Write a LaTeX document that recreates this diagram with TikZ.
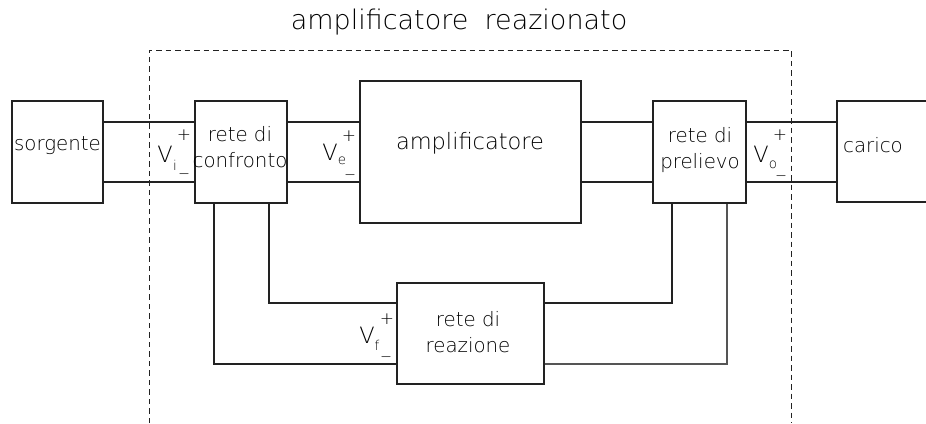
\documentclass[tikz,border=0pt]{standalone}
\usepackage{fontspec}
\setmainfont{DejaVu Sans ExtraLight}
\definecolor{ink}{HTML}{222222}
\definecolor{inkgray}{HTML}{555555}
\begin{document}
\begin{tikzpicture}[x=1pt,y=-1pt,
  box/.style={draw=ink,line width=1.1pt,inner sep=0pt},
  wire/.style={draw=ink,line width=1.1pt},
  frame/.style={draw=ink,line width=0.9pt,dash pattern=on 5.5pt off 4pt},
  lbl/.style={font=\fontsize{19.8}{26.5}\selectfont,align=center,inner sep=0pt},
  volt/.style={font=\fontsize{22.5}{22.5}\selectfont,inner sep=0pt},
  subs/.style={font=\fontsize{13.5}{13.5}\selectfont,inner sep=0pt},
  sgn/.style={font=\fontsize{17}{17}\selectfont,inner sep=0pt}]
\useasboundingbox (0,0) rectangle (926,423);
\clip (0,0) rectangle (926,423);

% title and the dashed outline of the feedback amplifier
\node[font=\fontsize{27}{27}\selectfont,inner sep=0pt] (title) at (459,22)
  {amplificatore\hspace{0.6em}reazionato};
\coordinate (fl) at (149,423);
\coordinate (fr) at (791,423);
\draw[frame] (fl) -- (149,50) -- (791,50) -- (fr);

% blocks
\node[box,minimum width=91pt,minimum height=102pt] (sorg) at (57.5,152) {};
\node[box,minimum width=92pt,minimum height=102pt] (conf) at (241,152) {};
\node[box,minimum width=221pt,minimum height=142pt] (amp) at (470.5,152) {};
\node[box,minimum width=93pt,minimum height=102pt] (prel) at (699.5,152) {};
\node[box,minimum width=147pt,minimum height=101pt] (reaz) at (470.5,333.5) {};
\node[box,minimum width=140pt,minimum height=101pt] (car) at (907,151.5) {};

% block labels
\node[lbl] (tsorg) at (57.5,146) {sorgente};
\node[lbl] (tconf) at (240,147) {rete di\\confronto};
\node[lbl,font=\fontsize{22.5}{22.5}\selectfont] (tamp) at (470,143) {amplificatore};
\node[lbl] (tprel) at (700,150) {rete di\\prelievo};
\node[lbl] (treaz) at (468,332) {rete di\\reazione};
\node[lbl] (tcar) at (873,145) {carico};

% signal wires (upper and lower conductor)
\coordinate (hi) at (0,122);
\coordinate (lo) at (0,182);
\foreach \a/\b in {sorg/conf,conf/amp,amp/prel,prel/car}{
  \draw[wire] (\a.east |- hi) -- (\b.west |- hi);
  \draw[wire] (\a.east |- lo) -- (\b.west |- lo);
}

% feedback loop
\coordinate (ci) at (269,303);
\coordinate (co) at (214,364);
\coordinate (pi) at (672,303);
\coordinate (po) at (727,364);
\draw[wire] (conf.south -| ci) |- (reaz.west |- ci);
\draw[wire] (conf.south -| co) |- (reaz.west |- co);
\draw[wire] (reaz.east |- pi) -| (prel.south -| pi);
\draw[wire,draw=inkgray] (reaz.east |- po) -| (prel.south -| po);

% port voltages
\node[volt] (vi) at (165,154) {V};
\node[subs] (vis) at (175,165) {i};
\node[sgn] (vip) at (184,135) {+};
\node[sgn,anchor=base] (vim) at (184,170) {\_};

\node[volt] (ve) at (330,152) {V};
\node[subs] (ves) at (342,161) {e};
\node[sgn] (vep) at (349,136) {+};
\node[sgn,anchor=base] (vem) at (350,171) {\_};

\node[volt] (vo) at (761,154) {V};
\node[subs] (vos) at (773,165) {o};
\node[sgn] (vop) at (780,135) {+};
\node[sgn,anchor=base] (vom) at (781,172) {\_};

\node[volt] (vf) at (367,335) {V};
\node[subs] (vfs) at (377,345) {f};
\node[sgn] (vfp) at (387,319) {+};
\node[sgn,anchor=base] (vfm) at (386,353) {\_};
\end{tikzpicture}
\end{document}
